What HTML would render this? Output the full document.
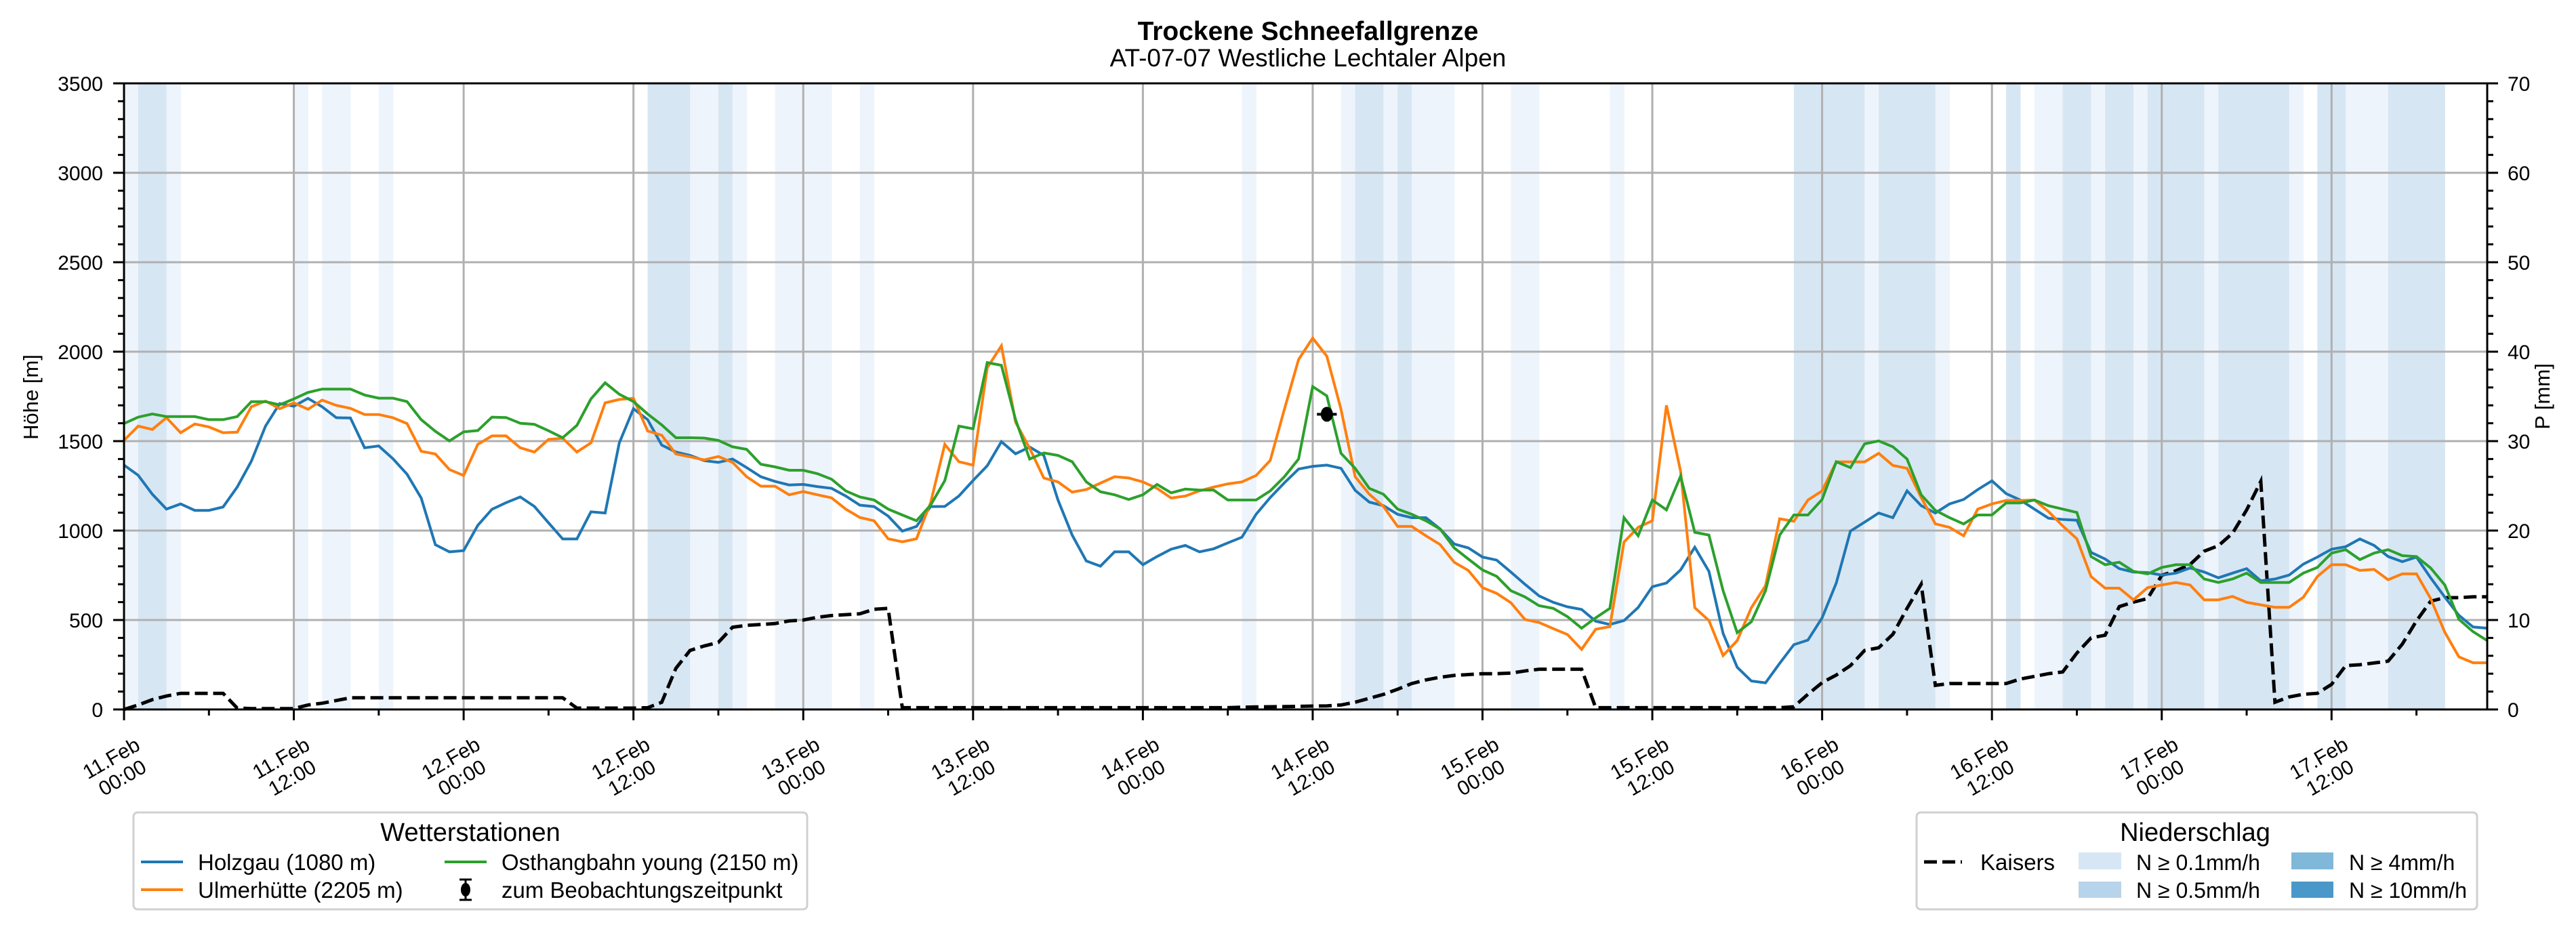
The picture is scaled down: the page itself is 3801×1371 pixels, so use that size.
<!DOCTYPE html>
<html><head><meta charset="utf-8"><title>Trockene Schneefallgrenze</title>
<style>
html,body{margin:0;padding:0;background:#fff;}
svg{display:block;font-family:"Liberation Sans","DejaVu Sans",sans-serif;}
</style></head>
<body>
<svg id="chart" width="3801" height="1371" viewBox="0 0 3801 1371" xmlns="http://www.w3.org/2000/svg">
<rect width="3801" height="1371" fill="#fff"/>
<text x="1930" y="59" font-size="39" font-weight="bold" text-anchor="middle">Trockene Schneefallgrenze</text>
<text x="1930" y="98" font-size="37" text-anchor="middle">AT-07-07 Westliche Lechtaler Alpen</text>
<g id="shade"></g>
<g id="grid"></g>
<g id="series"></g>
<g id="axes"></g>
<text transform="translate(56,586) rotate(-90)" font-size="31" text-anchor="middle">Höhe [m]</text>
<text transform="translate(3762,585) rotate(-90)" font-size="31" text-anchor="middle">P [mm]</text>

<g>
<rect x="197" y="1199" width="994" height="143" rx="6" fill="#fff" stroke="#d0d0d0" stroke-width="3"/>
<text x="694" y="1241" font-size="38" text-anchor="middle">Wetterstationen</text>
<g><line x1="208" y1="1272" x2="270" y2="1272" stroke="#1f77b4" stroke-width="4"/><text x="292" y="1284" font-size="33">Holzgau (1080 m)</text></g>
<g><line x1="208" y1="1313" x2="270" y2="1313" stroke="#ff7f0e" stroke-width="4"/><text x="292" y="1325" font-size="33">Ulmerhütte (2205 m)</text></g>
<g><line x1="656" y1="1272" x2="718" y2="1272" stroke="#2ca02c" stroke-width="4"/><text x="740" y="1284" font-size="33">Osthangbahn young (2150 m)</text></g>
<g><line x1="687" y1="1298" x2="687" y2="1328" stroke="#000" stroke-width="3"/><line x1="678" y1="1298" x2="696" y2="1298" stroke="#000" stroke-width="3"/><line x1="678" y1="1328" x2="696" y2="1328" stroke="#000" stroke-width="3"/><ellipse cx="687" cy="1313" rx="7" ry="10" fill="#000"/><text x="740" y="1325" font-size="33">zum Beobachtungszeitpunkt</text></g>
</g>

<g>
<rect x="2828" y="1199" width="827" height="143" rx="6" fill="#fff" stroke="#d0d0d0" stroke-width="3"/>
<text x="3239" y="1241" font-size="38" text-anchor="middle">Niederschlag</text>
<g><line x1="2839" y1="1272" x2="2895" y2="1272" stroke="#000" stroke-width="5" stroke-dasharray="19,8"/><text x="2922" y="1284" font-size="33">Kaisers</text></g>
<g><rect x="3067" y="1258" width="63" height="25" fill="#d6e6f4"/><text x="3152" y="1284" font-size="32">N ≥ 0.1mm/h</text></g>
<g><rect x="3067" y="1301" width="63" height="24" fill="#b7d4ea"/><text x="3152" y="1325" font-size="32">N ≥ 0.5mm/h</text></g>
<g><rect x="3381" y="1258" width="62" height="25" fill="#80b8da"/><text x="3466" y="1284" font-size="32">N ≥ 4mm/h</text></g>
<g><rect x="3381" y="1301" width="62" height="24" fill="#4a98c9"/><text x="3466" y="1325" font-size="32">N ≥ 10mm/h</text></g>
</g>
</svg>
<script>
const holzgau=[1366,1309,1203,1120,1149,1113,1113,1132,1243,1388,1584,1710,1695,1739,1692,1631,1629,1463,1473,1402,1315,1182,921,881,888,1029,1119,1156,1188,1135,1043,953,953,1105,1098,1490,1681,1620,1478,1439,1420,1391,1381,1400,1352,1301,1275,1255,1258,1246,1236,1193,1142,1134,1081,997,1023,1134,1135,1193,1280,1362,1497,1429,1467,1420,1171,975,830,801,881,881,809,855,896,917,881,898,931,963,1091,1185,1267,1344,1359,1366,1348,1225,1159,1139,1091,1072,1072,1009,925,903,852,835,768,700,635,599,574,559,493,475,497,570,686,707,780,907,772,425,236,159,149,258,362,388,512,707,997,1047,1098,1072,1222,1139,1098,1149,1174,1229,1278,1207,1171,1120,1069,1062,1058,878,841,787,768,765,751,762,791,768,736,762,787,719,729,751,812,852,896,910,953,917,855,826,852,736,628,526,461,454];
const ulmerhuette=[1504,1584,1565,1631,1547,1596,1579,1547,1550,1692,1724,1681,1714,1678,1729,1700,1683,1649,1649,1631,1598,1443,1428,1341,1308,1482,1529,1529,1463,1439,1510,1516,1439,1490,1714,1733,1739,1557,1533,1428,1412,1395,1414,1381,1301,1248,1248,1200,1218,1200,1183,1120,1073,1055,954,937,954,1156,1482,1385,1366,1910,2033,1606,1460,1294,1272,1215,1229,1265,1301,1294,1272,1236,1182,1193,1222,1243,1261,1272,1308,1392,1678,1956,2076,1975,1678,1301,1203,1135,1023,1023,971,922,823,777,681,649,597,503,486,452,419,336,448,463,936,1018,1055,1700,1331,569,497,301,385,569,692,1066,1052,1171,1222,1384,1384,1384,1432,1364,1348,1185,1037,1018,971,1120,1149,1168,1168,1171,1106,1026,954,743,678,678,613,681,696,710,696,613,613,632,599,585,571,571,627,743,809,809,777,783,725,758,758,620,432,294,261,261];
const osthangbahn=[1598,1634,1652,1637,1637,1637,1620,1620,1637,1721,1721,1703,1736,1772,1791,1791,1791,1758,1740,1740,1721,1620,1555,1501,1552,1559,1634,1632,1600,1594,1558,1519,1588,1736,1826,1762,1721,1652,1591,1519,1519,1517,1504,1468,1454,1371,1356,1337,1337,1318,1287,1222,1188,1171,1120,1087,1055,1142,1279,1584,1569,1939,1924,1620,1400,1434,1420,1385,1272,1217,1200,1174,1200,1258,1211,1232,1226,1226,1171,1171,1171,1222,1301,1400,1805,1753,1432,1348,1236,1203,1120,1091,1055,1009,903,841,780,744,664,629,580,565,519,454,512,565,1072,971,1171,1116,1304,990,975,664,429,490,664,975,1087,1087,1174,1385,1352,1485,1501,1468,1400,1200,1113,1072,1037,1087,1087,1154,1154,1171,1139,1120,1101,855,809,823,772,758,794,809,809,729,710,729,762,710,710,710,762,794,874,893,838,874,893,860,855,791,696,504,435,385];
const kaisersMm=[0,0.5,1.1,1.5,1.8,1.8,1.8,1.8,0.15,0.1,0.1,0.1,0.1,0.5,0.7,1.0,1.3,1.3,1.3,1.3,1.3,1.3,1.3,1.3,1.3,1.3,1.3,1.3,1.3,1.3,1.3,1.3,0.15,0.15,0.15,0.15,0.15,0.2,0.8,4.6,6.6,7.1,7.5,9.2,9.4,9.5,9.6,9.9,10.0,10.3,10.5,10.6,10.7,11.2,11.3,0.2,0.2,0.2,0.2,0.2,0.2,0.2,0.2,0.2,0.2,0.2,0.2,0.2,0.2,0.2,0.2,0.2,0.2,0.2,0.2,0.2,0.2,0.2,0.2,0.25,0.28,0.3,0.32,0.35,0.38,0.4,0.5,0.81,1.25,1.68,2.26,2.9,3.3,3.6,3.8,3.9,4.0,4.0,4.06,4.3,4.5,4.5,4.5,4.5,0.2,0.2,0.2,0.2,0.2,0.2,0.2,0.2,0.2,0.2,0.2,0.2,0.2,0.2,0.3,1.7,3.0,3.85,4.9,6.6,6.9,8.4,11.3,14.0,2.7,2.9,2.9,2.9,2.9,2.9,3.4,3.7,4.0,4.2,6.3,8.0,8.3,11.5,12.0,12.4,15.0,15.5,16.2,17.7,18.3,19.7,22.3,25.5,0.8,1.4,1.7,1.8,2.8,4.9,5.0,5.2,5.4,7.3,9.9,12.1,12.5,12.5,12.6,12.6];
const precipLevel=[1,2,2,1,0,0,0,0,0,0, 0,0,1,0,1,1,0,0,1,0, 0,0,0,0,0,0,0,0,0,0, 0,0,0,0,0,0,0,2,2,2, 1,1,2,1,0,0,1,1,1,1, 0,0,1,0,0,0,0,0,0,0, 0,0,0,0,0,0,0,0,0,0, 0,0,0,0,0,0,0,0,0,1, 0,0,0,0,0,0,1,2,2,1, 2,1,1,1,0,0,0,0,1,1, 0,0,0,0,0,1,0,0,0,0, 0,0,0,0,0,0,0,0,2,2, 2,2,2,1,2,2,2,2,1,0, 0,0,0,2,0,1,1,2,2,1, 2,2,1,2,2,2,2,1,2,2, 2,2,2,1,0,2,2,1,1,1, 2,2,2,2,0,0,0,0];
const observationPoint=[85,1650];
const xTickLabels=[["11.Feb","00:00"],["11.Feb","12:00"],["12.Feb","00:00"],["12.Feb","12:00"],["13.Feb","00:00"],["13.Feb","12:00"],["14.Feb","00:00"],["14.Feb","12:00"],["15.Feb","00:00"],["15.Feb","12:00"],["16.Feb","00:00"],["16.Feb","12:00"],["17.Feb","00:00"],["17.Feb","12:00"]];
const yTicks=[0,500,1000,1500,2000,2500,3000,3500];
const y2Ticks=[0,10,20,30,40,50,60,70];

const NS="http://www.w3.org/2000/svg";
const L=183,R=3670,T=123,B=1047,HMAX=167,YMAX=3500,Y2MAX=70;
const xs=h=>L+h*(R-L)/HMAX;
const ys=v=>B-v*(B-T)/YMAX;
const y2s=v=>B-v*(B-T)/Y2MAX;
function mk(tag,attrs,parent){const e=document.createElementNS(NS,tag);for(const k in attrs)e.setAttribute(k,attrs[k]);parent.appendChild(e);return e;}

const shade=document.getElementById('shade');
const shadeCol=["none","#eef4fb","#d7e6f3"];
precipLevel.forEach((lv,h)=>{
  if(!lv)return;
  const x0=xs(h),x1=Math.min(xs(h+1),R);
  const r=mk('rect',{x:x0,y:T,width:x1-x0+0.5,height:B-T,fill:shadeCol[lv]},shade);
  
  
});

const grid=document.getElementById('grid');
for(let h=0;h<=HMAX;h+=12){const g=mk('line',{x1:xs(h),x2:xs(h),y1:T,y2:B,stroke:'#b0b0b0','stroke-width':3},grid);}
yTicks.forEach(v=>{const g=mk('line',{x1:L,x2:R,y1:ys(v),y2:ys(v),stroke:'#b0b0b0','stroke-width':3},grid);});

const series=document.getElementById('series');
function line(arr,scale,color,name,dash,w){
  const pts=arr.map((v,i)=>xs(i).toFixed(1)+','+scale(v).toFixed(1)).join(' ');
  const p=mk('polyline',{points:pts,fill:'none',stroke:color,'stroke-width':w,'stroke-linejoin':'miter'},series);
  if(dash)p.setAttribute('stroke-dasharray',dash);
  
  
}
line(kaisersMm,y2s,'#000','kaisers-precip-line','19,8',5);
line(holzgau,ys,'#1f77b4','holzgau-line',null,4);
line(ulmerhuette,ys,'#ff7f0e','ulmerhuette-line',null,4);
line(osthangbahn,ys,'#2ca02c','osthangbahn-line',null,4);
const ob=mk('g',{},series);


mk('line',{x1:xs(observationPoint[0]-0.7),x2:xs(observationPoint[0]+0.7),y1:ys(observationPoint[1]),y2:ys(observationPoint[1]),stroke:'#000','stroke-width':4},ob);
mk('ellipse',{cx:xs(observationPoint[0]),cy:ys(observationPoint[1]),rx:9,ry:11,fill:'#000'},ob);

const axes=document.getElementById('axes');
mk('rect',{x:L,y:T,width:R-L,height:B-T,fill:'none',stroke:'#000','stroke-width':3},axes);
for(let h=0;h<=HMAX;h+=6){
  const major=h%12===0;
  mk('line',{x1:xs(h),x2:xs(h),y1:B,y2:B+(major?16:9),stroke:'#000','stroke-width':3},axes);
  if(major){
    const lab=xTickLabels[h/12];
    const g=mk('g',{transform:`translate(${xs(h)+26},${B+58}) rotate(-30)`},axes);
    
    
    const t1=mk('text',{x:-46,y:0,'font-size':30,'text-anchor':'middle'},g);t1.textContent=lab[0];
    const t2=mk('text',{x:-46,y:33,'font-size':30,'text-anchor':'middle'},g);t2.textContent=lab[1];
  }
}
for(let v=0;v<=YMAX;v+=100){
  const major=v%500===0;
  mk('line',{x1:L,x2:L-(major?16:9),y1:ys(v),y2:ys(v),stroke:'#000','stroke-width':3},axes);
}
yTicks.forEach(v=>{const t=mk('text',{x:L-31,y:ys(v)+11,'font-size':30,'text-anchor':'end'},axes);t.textContent=v;});
for(let v=0;v<=Y2MAX;v+=2){
  const major=v%10===0;
  mk('line',{x1:R,x2:R+(major?16:9),y1:y2s(v),y2:y2s(v),stroke:'#000','stroke-width':3},axes);
}
y2Ticks.forEach(v=>{const t=mk('text',{x:R+30,y:y2s(v)+11,'font-size':30,'text-anchor':'start'},axes);t.textContent=v;});
</script>
</body></html>
